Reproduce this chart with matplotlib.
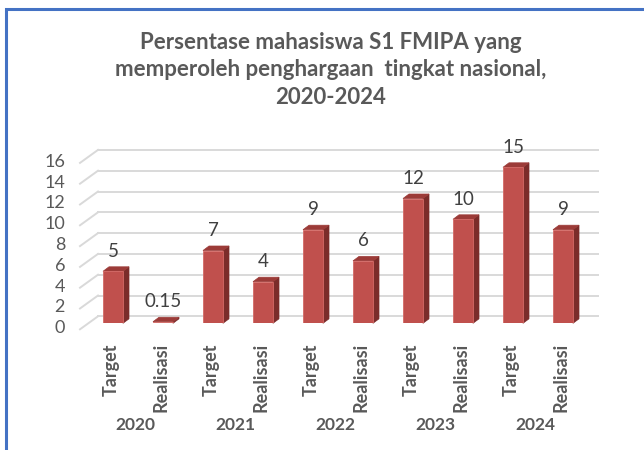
import matplotlib
matplotlib.use("Agg")
import matplotlib.pyplot as plt
import matplotlib.transforms as mtransforms
from matplotlib.patches import Polygon, Rectangle

years = ["2020", "2021", "2022", "2023", "2024"]
series = ["Target", "Realisasi"]
values = [5, 0.15, 7, 4, 9, 6, 12, 10, 15, 9]
value_labels = ["5", "0.15", "7", "4", "9", "6", "12", "10", "15", "9"]
yticks = [0, 2, 4, 6, 8, 10, 12, 14, 16]
title = "Persentase mahasiswa S1 FMIPA yang\nmemperoleh penghargaan  tingkat nasional,\n2020-2024"

W, H = 644, 450
fig = plt.figure(figsize=(W / 100, H / 100), dpi=100)
FONT = "Lato"
GRAY = "#595959"

# figure border (blue)
fig.patches.append(Rectangle((6 / W, -0.1), 1.2, 1 - 9 / H + 0.1, transform=fig.transFigure,
                             fill=False, edgecolor="#4472c4", linewidth=2.2))

ax_l, ax_b = 88, 126.7
ax_w, ax_h = 500, 166.4
ax = fig.add_axes([ax_l / W, ax_b / H, ax_w / W, ax_h / H])
ax.set_xlim(0.5, 10.5)
ax.set_ylim(0, 16)
ax.axis("off")

px_x = ax_w / 10.0
px_y = ax_h / 16.0

back = mtransforms.offset_copy(ax.transData, fig=fig, x=10, y=7, units="dots")
front_t = mtransforms.offset_copy(ax.transData, fig=fig, x=-8, y=-6, units="dots")

# gridlines on back wall with diagonal to front
for v in yticks:
    ax.plot([0.5, 10.5], [v, v], color="#d9d9d9", lw=1.4, transform=back, clip_on=False, zorder=1)
    p_front = front_t.transform((0.5, v))
    p_back = back.transform((0.5, v))
    ax.plot([p_front[0], p_back[0]], [p_front[1], p_back[1]], color="#d9d9d9", lw=1.4,
            transform=None, clip_on=False, zorder=1)
    ax.text(0.5, v, str(v), transform=mtransforms.offset_copy(ax.transData, fig=fig, x=-23, y=-5, units="dots"),
            ha="right", va="center", fontsize=13, color=GRAY, family=FONT)

# bars
xs = list(range(1, len(values) + 1))
bw = 0.4
ddx = 6 / px_x
ddy = 4.5 / px_y
FRONT = "#c0504d"
SIDE = "#7b2c2a"
TOP = "#9c3b38"
for x, v in zip(xs, values):
    l, r = x - bw / 2, x + bw / 2
    ax.add_patch(Polygon([(r, 0), (r + ddx, ddy), (r + ddx, v + ddy), (r, v)], closed=True,
                         facecolor=SIDE, edgecolor=SIDE, lw=0.5, zorder=3, clip_on=False))
    ax.add_patch(Polygon([(l, v), (l + ddx, v + ddy), (r + ddx, v + ddy), (r, v)], closed=True,
                         facecolor=TOP, edgecolor=TOP, lw=0.5, zorder=3, clip_on=False))
ax.bar(xs, values, width=bw, color=FRONT, edgecolor="#d46a66", linewidth=0.6, zorder=4)

for x, v, lab in zip(xs, values, value_labels):
    ax.annotate(lab, (x, v), xytext=(0, 14.5), textcoords="offset points", ha="center", va="center",
                fontsize=13.5, color="#404040", family=FONT, zorder=5)

# category labels
blend = mtransforms.blended_transform_factory(ax.transData, fig.transFigure)
for i, x in enumerate(xs):
    ax.text(x - 0.03, 1 - 343 / H, series[i % 2], transform=blend, rotation=90, ha="center", va="top",
            fontsize=13, fontweight="bold", color=GRAY, family=FONT)
for j, yr in enumerate(years):
    xm = (xs[2 * j] + xs[2 * j + 1]) / 2 - 0.06
    ax.text(xm, 1 - 425 / H, yr, transform=blend, ha="center", va="center",
            fontsize=12.5, fontweight="bold", color=GRAY, family=FONT)

fig.text(331 / W, 1 - 70 / H, title, ha="center", va="center", fontsize=16, fontweight="bold",
         color=GRAY, family=FONT, linespacing=1.4)

fig.savefig("out.png", dpi=100)
